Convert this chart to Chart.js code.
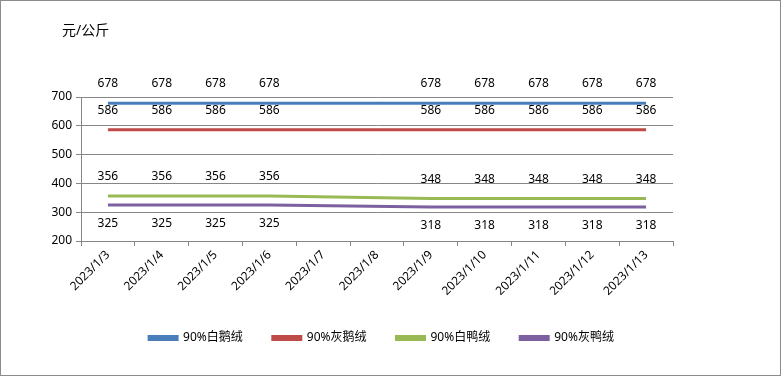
<!DOCTYPE html>
<html lang="zh">
<head>
    <meta charset="UTF-8">
    <title>羽绒价格</title>
    <script src="https://cdn.jsdelivr.net/npm/chart.js"></script>
    <style>
        body { margin: 0; background: #fff; }
        #wrap { width: 781px; height: 376px; }
    </style>
</head>
<body>
    <div id="wrap"><canvas id="downChart" width="781" height="376"></canvas></div>

    <script>
        // 数据
        const dates = ["2023/1/3", "2023/1/4", "2023/1/5", "2023/1/6", "2023/1/7", "2023/1/8",
                       "2023/1/9", "2023/1/10", "2023/1/11", "2023/1/12", "2023/1/13"];
        const whiteGoose = [678, 678, 678, 678, null, null, 678, 678, 678, 678, 678];
        const greyGoose  = [586, 586, 586, 586, null, null, 586, 586, 586, 586, 586];
        const whiteDuck  = [356, 356, 356, 356, null, null, 348, 348, 348, 348, 348];
        const greyDuck   = [325, 325, 325, 325, null, null, 318, 318, 318, 318, 318];
        const seriesNames = ["90%白鹅绒", "90%灰鹅绒", "90%白鸭绒", "90%灰鸭绒"];
        const unitLabel = "元/公斤";

        const FONT = "'Noto Sans', 'Noto Sans CJK SC', sans-serif";
        Chart.defaults.font.family = FONT;
        Chart.defaults.font.size = 12;
        Chart.defaults.color = "#000";

        // 数值标签 + 单位 + 外框
        const extras = {
            id: "extras",
            afterLayout(chart) {
                // 图例整体右移，与原图居中位置一致
                chart.legend.left += 35;
                chart.legend.right += 35;
            },
            afterDatasetsDraw(chart) {
                const c = chart.ctx;
                c.save();
                c.font = "12px " + FONT;
                c.fillStyle = "#000";
                c.textAlign = "center";
                c.textBaseline = "middle";
                chart.data.datasets.forEach((ds, i) => {
                    const meta = chart.getDatasetMeta(i);
                    meta.data.forEach((pt, j) => {
                        if (ds.data[j] == null) return;
                        c.fillText(ds.data[j], pt.x, pt.y + ds.labelOffset);
                    });
                });
                c.restore();
            },
            afterDraw(chart) {
                const c = chart.ctx;
                c.save();
                c.font = "14px " + FONT;
                c.fillStyle = "#000";
                c.textBaseline = "middle";
                c.fillText(unitLabel, 62, 31);
                c.strokeStyle = "#8c8c8c";
                c.lineWidth = 1;
                c.strokeRect(0.5, 0.5, chart.width - 1, chart.height - 1);
                c.restore();
            }
        };

        function line(label, data, color, off) {
            return {
                label: label,
                data: data,
                borderColor: color,
                backgroundColor: color,
                borderWidth: 3,
                pointRadius: 0,
                tension: 0,
                spanGaps: true,
                labelOffset: off
            };
        }

        new Chart(document.getElementById("downChart"), {
            type: "line",
            data: {
                labels: dates,
                datasets: [
                    line(seriesNames[0], whiteGoose, "#4A7EBB", -20),
                    line(seriesNames[1], greyGoose, "#BE4B48", -19),
                    line(seriesNames[2], whiteDuck, "#98B954", -19),
                    line(seriesNames[3], greyDuck, "#7D60A0", 19)
                ]
            },
            options: {
                responsive: false,
                animation: false,
                layout: { padding: { top: 97, left: 20, right: 108, bottom: 22 } },
                plugins: {
                    legend: {
                        position: "bottom",
                        labels: {
                            boxWidth: 28,
                            boxHeight: 3,
                            padding: 30,
                            font: { size: 12 },
                            color: "#000"
                        }
                    },
                    tooltip: { enabled: false }
                },
                scales: {
                    x: {
                        offset: true,
                        grid: { offset: true, drawOnChartArea: false, tickLength: 5, color: "#868686" },
                        border: { color: "#868686" },
                        ticks: { minRotation: 45, maxRotation: 45, padding: 2, color: "#000" },
                        afterFit(s) { s.height = 61; }
                    },
                    y: {
                        min: 200,
                        max: 700,
                        ticks: { stepSize: 100, padding: 4, color: "#000" },
                        grid: { color: "#868686", tickLength: 5 },
                        border: { color: "#868686" },
                        afterFit(s) { s.width = 61; }
                    }
                }
            },
            plugins: [extras]
        });
    </script>
</body>
</html>
